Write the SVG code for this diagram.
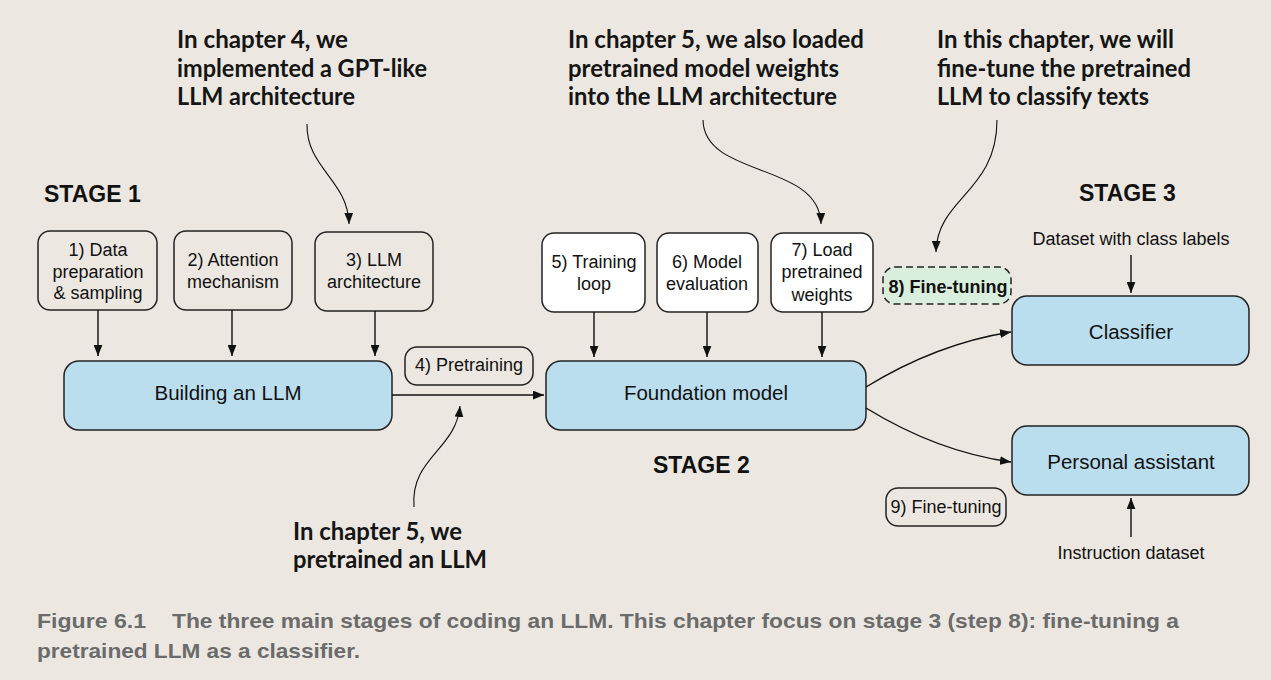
<svg xmlns="http://www.w3.org/2000/svg" width="1271" height="680" viewBox="0 0 1271 680">
<style>
.bg{fill:#ece8e1}
.sbox{fill:#ece8e1;stroke:#222;stroke-width:1.5}
.wbox{fill:#ffffff;stroke:#222;stroke-width:1.5}
.bbox{fill:#badeee;stroke:#222;stroke-width:1.5}
.gbox{fill:#d9eedc;stroke:#222;stroke-width:1.5;stroke-dasharray:7 4}
.t{font-family:"Liberation Sans",Arial,sans-serif;font-size:18px;fill:#111;text-anchor:middle}
.tb{font-family:"Liberation Sans",Arial,sans-serif;font-size:20.5px;fill:#111;text-anchor:middle}
.st{font-family:"Liberation Sans",Arial,sans-serif;font-size:23px;font-weight:bold;fill:#111}
.ann{font-family:Lato,"Open Sans",sans-serif;font-size:24px;font-weight:bold;fill:#151515}
.cap{font-family:"Liberation Sans Narrow","Liberation Sans",Arial,sans-serif;font-size:21px;font-weight:bold;fill:#6b6b6b}
.c{fill:none;stroke:#111;stroke-width:1.4}
.cc{fill:none;stroke:#111;stroke-width:1.1}
</style>
<defs>
<marker id="ah" viewBox="0 0 10 8" refX="10" refY="4" markerWidth="11" markerHeight="9" markerUnits="userSpaceOnUse" orient="auto">
<path d="M0,0 L10,4 L0,8 z" fill="#111"/>
</marker>
</defs>
<rect class="bg" x="0" y="0" width="1271" height="680"/>

<g id="annotations">
<text class="ann" x="177" y="48" textLength="171" lengthAdjust="spacingAndGlyphs">In chapter 4, we</text>
<text class="ann" x="177" y="77" textLength="250" lengthAdjust="spacingAndGlyphs">implemented a GPT-like</text>
<text class="ann" x="177" y="105" textLength="178" lengthAdjust="spacingAndGlyphs">LLM architecture</text>
<text class="ann" x="568" y="48" textLength="296" lengthAdjust="spacingAndGlyphs">In chapter 5, we also loaded</text>
<text class="ann" x="568" y="77" textLength="271" lengthAdjust="spacingAndGlyphs">pretrained model weights</text>
<text class="ann" x="568" y="105" textLength="269" lengthAdjust="spacingAndGlyphs">into the LLM architecture</text>
<text class="ann" x="937" y="48" textLength="237" lengthAdjust="spacingAndGlyphs">In this chapter, we will</text>
<text class="ann" x="937" y="77" textLength="254" lengthAdjust="spacingAndGlyphs">fine-tune the pretrained</text>
<text class="ann" x="937" y="105" textLength="212" lengthAdjust="spacingAndGlyphs">LLM to classify texts</text>
<text class="ann" x="293" y="540" textLength="169" lengthAdjust="spacingAndGlyphs">In chapter 5, we</text>
<text class="ann" x="293" y="568" textLength="194" lengthAdjust="spacingAndGlyphs">pretrained an LLM</text>
</g>

<g id="stages">
<text class="st" x="44" y="202">STAGE 1</text>
<text class="st" x="653" y="473">STAGE 2</text>
<text class="st" x="1079" y="201">STAGE 3</text>
</g>

<g id="n1"><rect class="sbox" x="38" y="231" width="119" height="79" rx="12"/>
<text class="t" x="98" y="256">1) Data</text><text class="t" x="98" y="278">preparation</text><text class="t" x="98" y="299">&amp; sampling</text></g>
<g id="n2"><rect class="sbox" x="174" y="231" width="118" height="79" rx="12"/>
<text class="t" x="233" y="266">2) Attention</text><text class="t" x="233" y="288">mechanism</text></g>
<g id="n3"><rect class="sbox" x="315" y="232" width="118" height="79" rx="12"/>
<text class="t" x="374" y="266">3) LLM</text><text class="t" x="374" y="288">architecture</text></g>
<g id="build"><rect class="bbox" x="64" y="361" width="328" height="69" rx="15"/>
<text class="tb" x="228" y="400">Building an LLM</text></g>
<g id="n4"><rect class="sbox" x="405" y="347" width="128" height="38" rx="12"/>
<text class="t" x="469" y="371">4) Pretraining</text></g>
<g id="n5"><rect class="wbox" x="542" y="233" width="103" height="79" rx="12"/>
<text class="t" x="594" y="268">5) Training</text><text class="t" x="594" y="290">loop</text></g>
<g id="n6"><rect class="wbox" x="657" y="233" width="101" height="79" rx="12"/>
<text class="t" x="707" y="268">6) Model</text><text class="t" x="707" y="290">evaluation</text></g>
<g id="n7"><rect class="wbox" x="771" y="233" width="102" height="79" rx="12"/>
<text class="t" x="822" y="256">7) Load</text><text class="t" x="822" y="278">pretrained</text><text class="t" x="822" y="301">weights</text></g>
<g id="found"><rect class="bbox" x="546" y="361" width="320" height="69" rx="15"/>
<text class="tb" x="706" y="400">Foundation model</text></g>
<g id="n8"><rect class="gbox" x="883" y="267" width="128" height="37" rx="12"/>
<text class="t" x="948" y="293" font-weight="bold">8) Fine-tuning</text></g>
<g id="classifier"><rect class="bbox" x="1012" y="296" width="237" height="69" rx="15"/>
<text class="tb" x="1131" y="339">Classifier</text></g>
<g id="assistant"><rect class="bbox" x="1012" y="426" width="237" height="69" rx="15"/>
<text class="tb" x="1131" y="469">Personal assistant</text></g>
<g id="n9"><rect class="sbox" x="886" y="488" width="120" height="38" rx="12"/>
<text class="t" x="946" y="513">9) Fine-tuning</text></g>
<g id="ds1"><text class="t" x="1131" y="245">Dataset with class labels</text></g>
<g id="ds2"><text class="t" x="1131" y="559">Instruction dataset</text></g>

<g id="connectors">
<path class="c" d="M98,310 V356" marker-end="url(#ah)"/>
<path class="c" d="M232,310 V356" marker-end="url(#ah)"/>
<path class="c" d="M375,311 V356" marker-end="url(#ah)"/>
<path class="c" d="M594,312 V357" marker-end="url(#ah)"/>
<path class="c" d="M707,312 V357" marker-end="url(#ah)"/>
<path class="c" d="M822,312 V357" marker-end="url(#ah)"/>
<path class="c" d="M392,395 H544" marker-end="url(#ah)"/>
<path class="c" d="M1131,255 V293" marker-end="url(#ah)"/>
<path class="c" d="M1131,537 V498" marker-end="url(#ah)"/>
<path class="c" d="M866,387 C910,360 960,340 1011,332" marker-end="url(#ah)"/>
<path class="c" d="M866,408 C910,435 960,455 1011,462" marker-end="url(#ah)"/>
<path class="cc" d="M307,124 C306,168 348,180 349,224" marker-end="url(#ah)"/>
<path class="cc" d="M703,120 C704,178 820,162 821,224" marker-end="url(#ah)"/>
<path class="cc" d="M997,120 C997,192 937,198 936,252" marker-end="url(#ah)"/>
<path class="cc" d="M414,507 C410,458 456,450 460,406" marker-end="url(#ah)"/>
</g>

<g id="caption">
<text class="cap" x="37" y="628" textLength="109" lengthAdjust="spacingAndGlyphs">Figure 6.1</text>
<text class="cap" x="172" y="628" textLength="1007" lengthAdjust="spacingAndGlyphs">The three main stages of coding an LLM. This chapter focus on stage 3 (step 8): fine-tuning a</text>
<text class="cap" x="37" y="658" textLength="323" lengthAdjust="spacingAndGlyphs">pretrained LLM as a classifier.</text>
</g>
</svg>
